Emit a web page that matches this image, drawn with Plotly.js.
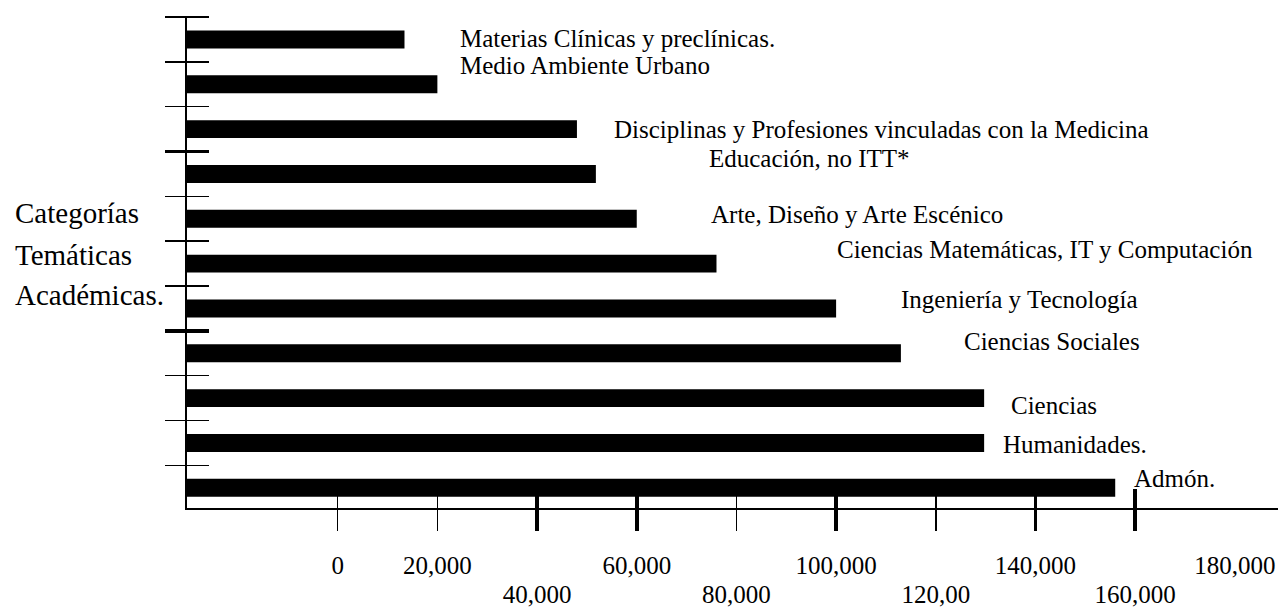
<!DOCTYPE html>
<html>
<head>
<meta charset="utf-8">
<script src="https://cdn.plot.ly/plotly-3.0.1.min.js"></script>
<style>html,body{margin:0;padding:0;background:#fff;}</style>
</head>
<body>
<div id="chart" style="width:1278px;height:607px;"></div>
<script>
// ---- data ----
const categories = [
  'Materias Clínicas y preclínicas.',
  'Medio Ambiente Urbano',
  'Disciplinas y Profesiones vinculadas con la Medicina',
  'Educación, no ITT*',
  'Arte, Diseño y Arte Escénico',
  'Ciencias Matemáticas, IT y Computación',
  'Ingeniería y Tecnología',
  'Ciencias Sociales',
  'Ciencias',
  'Humanidades.',
  'Admón.'
];
const values = [13400, 20000, 48000, 51800, 60000, 76000, 100000, 113000, 129700, 129700, 156000];

const tickValues = [0, 20000, 40000, 60000, 80000, 100000, 120000, 140000, 160000, 180000];
const tickLabels = ['0', '20,000', '40,000', '60,000', '80,000', '100,000', '120,00', '140,000', '160,000', '180,000'];
const tickRow    = [1, 1, 2, 1, 2, 1, 2, 1, 2, 1];
const thinTicks  = [0, 20000, 80000, 120000];
const thickTicks = [40000, 60000, 100000, 140000, 160000];

const sideTitle = ['Categorías', 'Temáticas', 'Académicas.'];

// ---- layout settings ----
const X_START = -30236, X_END = 188660;
const Y_RANGE = [10.45, -0.5];
const FONT = 'Liberation Serif, Times New Roman, serif';
// label offsets from bar end (px): [xshift, yshift]
const labelOffsets = [[54, 1], [21, 19], [35, 0], [111, 15], [72, 4], [119, 14], [63, 9], [61, 12], [25, -7], [17, -2], [17, 9]];

const row1 = tickValues.filter((v, i) => tickRow[i] === 1);
const row1Text = tickLabels.filter((t, i) => tickRow[i] === 1);
const row2 = tickValues.filter((v, i) => tickRow[i] === 2);
const row2Text = tickLabels.filter((t, i) => tickRow[i] === 2);

const bars = {
  type: 'bar',
  orientation: 'h',
  y: categories,
  x: values.map(v => v - X_START),
  base: X_START,
  customdata: values,
  hovertemplate: '%{y}: %{customdata:,}<extra></extra>',
  width: 0.4,
  marker: {color: '#000', line: {width: 0}}
};

// invisible helper traces so the overlay axes (tick marks / second label row) are drawn
const helper = (xa, ya, yv) => ({
  type: 'scatter', mode: 'markers', xaxis: xa, yaxis: ya,
  x: values, y: yv, marker: {opacity: 0, size: 1},
  hoverinfo: 'skip', showlegend: false
});
const idx = categories.map((c, i) => i);
const traces = [
  bars,
  helper('x2', 'y', categories),
  helper('x3', 'y', categories),
  helper('x4', 'y', categories),
  helper('x', 'y2', idx),
  helper('x', 'y3', idx)
];

const annotations = categories.map((c, i) => ({
  xref: 'x', yref: 'y', x: values[i], y: c,
  text: c, showarrow: false, xanchor: 'left', yanchor: 'middle',
  xshift: labelOffsets[i][0], yshift: labelOffsets[i][1],
  font: {family: FONT, size: 25, color: '#000'}
}));
const sideY = [0.6004, 0.5149, 0.4328];
sideTitle.forEach((t, i) => annotations.push({
  xref: 'paper', yref: 'paper', x: -0.1595, y: sideY[i],
  text: t, showarrow: false, xanchor: 'left', yanchor: 'middle',
  font: {family: FONT, size: 29, color: '#000'}
}));

const tickAxis = (vals, w) => ({
  type: 'linear', overlaying: 'x', anchor: 'free', position: 0.0407, side: 'bottom',
  range: [X_START, X_END], autorange: false, fixedrange: true,
  tickmode: 'array', tickvals: vals, ticks: 'outside', ticklen: 42, tickwidth: w, tickcolor: '#000',
  showticklabels: false, showline: false, showgrid: false, zeroline: false
});
const yTickAxis = (vals, w) => ({
  type: 'linear', overlaying: 'y', anchor: 'free', position: 0.02017, side: 'left',
  range: Y_RANGE, autorange: false, fixedrange: true,
  tickmode: 'array', tickvals: vals, ticks: 'outside', ticklen: 44, tickwidth: w, tickcolor: '#000',
  showticklabels: false, showline: false, showgrid: false, zeroline: false
});

const layout = {
  width: 1278, height: 607,
  margin: {l: 187, r: 0, t: 17, b: 99, pad: 0},
  paper_bgcolor: '#fff', plot_bgcolor: '#fff',
  showlegend: false,
  barmode: 'overlay',
  font: {family: FONT, color: '#000'},
  xaxis: {
    type: 'linear', range: [X_START, X_END], autorange: false, fixedrange: true,
    tickmode: 'array', tickvals: row1, ticktext: row1Text,
    ticks: '', ticklabelstandoff: 34,
    tickfont: {family: FONT, size: 25, color: '#000'},
    showline: true, linecolor: '#000', linewidth: 1.5,
    showgrid: false, zeroline: false
  },
  xaxis2: tickAxis(thinTicks, 1.5),
  xaxis3: tickAxis(thickTicks, 3.5),
  xaxis4: {
    type: 'linear', overlaying: 'x', anchor: 'y', side: 'bottom',
    range: [X_START, X_END], autorange: false, fixedrange: true,
    tickmode: 'array', tickvals: row2, ticktext: row2Text,
    ticks: '', ticklabelstandoff: 69,
    tickfont: {family: FONT, size: 25, color: '#000'},
    showline: false, showgrid: false, zeroline: false
  },
  yaxis: {
    type: 'category', range: Y_RANGE, autorange: false, fixedrange: true,
    showticklabels: false, ticks: '',
    showline: true, linecolor: '#000', linewidth: 2.5,
    showgrid: false, zeroline: false
  },
  yaxis2: yTickAxis([-0.5, 0.5, 1.5, 2.5, 3.5, 4.5, 5.5, 6.5, 7.5, 8.5, 9.5], 1.5),
  yaxis3: yTickAxis([2.5, 6.5], 3.5),
  annotations: annotations
};

Plotly.newPlot('chart', traces, layout, {displayModeBar: false, staticPlot: true});
</script>
</body>
</html>
